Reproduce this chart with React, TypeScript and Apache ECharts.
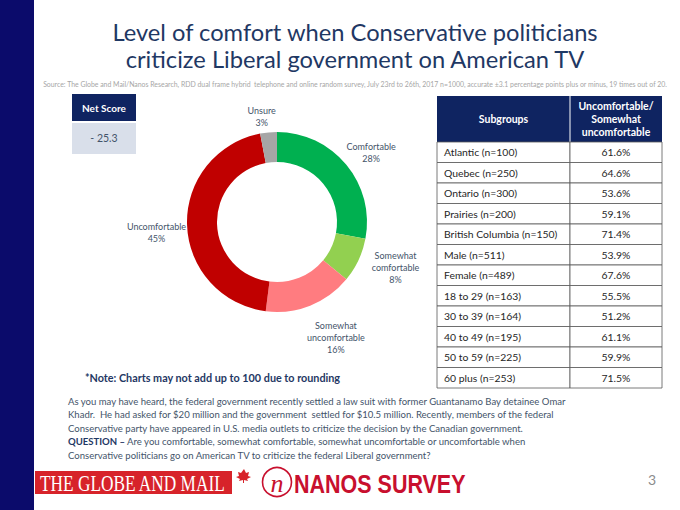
import React, { useEffect, useRef } from "react";
import * as echarts from "echarts";

const sliceNames = ["Comfortable", "Somewhat comfortable", "Somewhat uncomfortable", "Uncomfortable", "Unsure"];
const sliceValues = [28, 8, 16, 45, 3];
const sliceColors = ["#00B050", "#92D050", "#FF7C80", "#C00000", "#A6A6A6"];

const subgroups = [
  "Atlantic (n=100)", "Quebec (n=250)", "Ontario (n=300)", "Prairies (n=200)",
  "British Columbia (n=150)", "Male (n=511)", "Female (n=489)", "18 to 29 (n=163)",
  "30 to 39 (n=164)", "40 to 49 (n=195)", "50 to 59 (n=225)", "60 plus (n=253)",
];
const subgroupValues = ["61.6%", "64.6%", "53.6%", "59.1%", "71.4%", "53.9%", "67.6%", "55.5%", "51.2%", "61.1%", "59.9%", "71.5%"];

const netScore = "- 25.3";
const titleLines = ["Level of comfort when Conservative politicians", "criticize Liberal government on American TV"];
const sourceText =
  "Source: The Globe and Mail/Nanos Research, RDD dual frame hybrid  telephone and online random survey, July 23rd to 26th, 2017 n=1000, accurate ±3.1 percentage points plus or minus, 19 times out of 20.";
const noteText = "*Note: Charts may not add up to 100 due to rounding";
const paragraph = [
  "As you may have heard, the federal government recently settled a law suit with former Guantanamo Bay detainee Omar",
  "Khadr.  He had asked for $20 million and the government  settled for $10.5 million. Recently, members of the federal",
  "Conservative party have appeared in U.S. media outlets to criticize the decision by the Canadian government.",
  "{b|QUESTION –} Are you comfortable, somewhat comfortable, somewhat uncomfortable or uncomfortable when",
  "Conservative politicians go on American TV to criticize the federal Liberal government?",
];

const FONT = 'Lato, "Open Sans", sans-serif';
const NAVY = "#1F3864";
const HEAD = "#0F2461";

// label nudges (px) per slice, to sit labels like the reference
const labelNudge = [[-11, -7], [1, 4], [-11, 24], [12, 7], [13, -8]];

export default function App() {
  const ref = useRef<HTMLDivElement>(null);
  useEffect(() => {
    if (!ref.current) return;
    const chart = echarts.init(ref.current, null, { renderer: "svg" });

    const graphics: any[] = [];
    graphics.push({ type: "rect", shape: { x: 0, y: 0, width: 34, height: 510 }, style: { fill: "#0B0B6B" }, silent: true });
    titleLines.forEach((t, i) => {
      graphics.push({
        type: "text", x: 355, y: 32 + i * 27,
        style: { text: t, fill: NAVY, fontSize: 23.7, fontFamily: FONT, textAlign: "center", textVerticalAlign: "middle" },
      });
    });
    graphics.push({
      type: "text", x: 355, y: 84,
      style: { text: sourceText, fill: "#A6A6A6", fontSize: 6.9, fontFamily: FONT, textAlign: "center", textVerticalAlign: "middle" },
    });

    // Net score box
    graphics.push({ type: "rect", shape: { x: 72, y: 94, width: 64, height: 27 }, style: { fill: HEAD } });
    graphics.push({ type: "text", x: 104, y: 108, style: { text: "Net Score", fill: "#fff", fontSize: 10, fontWeight: "bold", fontFamily: FONT, textAlign: "center", textVerticalAlign: "middle" } });
    graphics.push({ type: "rect", shape: { x: 72, y: 123, width: 64, height: 31 }, style: { fill: "#D9DFEA" } });
    graphics.push({ type: "text", x: 104, y: 138, style: { text: netScore, fill: "#44546A", fontSize: 10.5, fontFamily: FONT, textAlign: "center", textVerticalAlign: "middle" } });

    // Table
    const tx0 = 437, tx1 = 570, tx2 = 662, ty0 = 96, hh = 46, rh = 20.5;
    graphics.push({ type: "rect", shape: { x: tx0, y: ty0, width: tx2 - tx0, height: hh }, style: { fill: HEAD } });
    graphics.push({ type: "line", shape: { x1: tx1, y1: ty0, x2: tx1, y2: ty0 + hh }, style: { stroke: "#ffffff", lineWidth: 1 } });
    graphics.push({ type: "text", x: (tx0 + tx1) / 2, y: ty0 + hh / 2, style: { text: "Subgroups", fill: "#fff", fontSize: 10.5, fontWeight: "bold", fontFamily: FONT, textAlign: "center", textVerticalAlign: "middle" } });
    graphics.push({ type: "text", x: (tx1 + tx2) / 2, y: ty0 + hh / 2, style: { text: "Uncomfortable/\nSomewhat\nuncomfortable", fill: "#fff", fontSize: 10.5, lineHeight: 13, fontWeight: "bold", fontFamily: FONT, textAlign: "center", textVerticalAlign: "middle" } });
    subgroups.forEach((s, i) => {
      const y = ty0 + hh + i * rh;
      graphics.push({ type: "rect", shape: { x: tx0, y, width: tx1 - tx0, height: rh }, style: { fill: "#fff", stroke: "#595959", lineWidth: 0.8 } });
      graphics.push({ type: "rect", shape: { x: tx1, y, width: tx2 - tx1, height: rh }, style: { fill: "#fff", stroke: "#595959", lineWidth: 0.8 } });
      graphics.push({ type: "text", x: tx0 + 7, y: y + rh / 2, style: { text: s, fill: "#262626", fontSize: 10.4, fontFamily: FONT, textAlign: "left", textVerticalAlign: "middle" } });
      graphics.push({ type: "text", x: (tx1 + tx2) / 2, y: y + rh / 2, style: { text: subgroupValues[i], fill: "#262626", fontSize: 10.4, fontFamily: FONT, textAlign: "center", textVerticalAlign: "middle" } });
    });

    // Note
    graphics.push({ type: "text", x: 85, y: 377, style: { text: noteText, fill: NAVY, fontSize: 10.8, fontWeight: "bold", fontFamily: FONT, textAlign: "left", textVerticalAlign: "middle" } });

    // Paragraph
    paragraph.forEach((line, i) => {
      graphics.push({
        type: "text", x: 68, y: 401 + i * 13.6,
        style: {
          text: line, fill: "#44546A", fontSize: 9.55, fontFamily: FONT, textAlign: "left", textVerticalAlign: "middle",
          rich: { b: { fill: NAVY, fontWeight: "bold", fontSize: 9.55, fontFamily: FONT } },
        },
      });
    });

    // Globe and Mail logo
    graphics.push({ type: "rect", shape: { x: 35, y: 471, width: 197, height: 23 }, style: { fill: "#D7232A" } });
    graphics.push({
      type: "text", x: 40, y: 483, scaleX: 0.72,
      style: { text: "THE GLOBE AND MAIL", fill: "#fff", fontSize: 24, fontFamily: '"Liberation Serif", "DejaVu Serif", serif', textAlign: "left", textVerticalAlign: "middle" },
    });
    graphics.push({
      type: "polygon",
      shape: { points: [[244, 469], [246, 473], [249, 472], [248, 476], [251, 477], [247, 479], [248, 481], [244, 480], [244, 483], [243, 483], [243, 480], [239, 481], [240, 479], [236, 477], [239, 476], [238, 472], [241, 473]] },
      style: { fill: "#D7232A" },
    });
    // Nanos logo
    graphics.push({ type: "circle", shape: { cx: 277, cy: 482, r: 14.5 }, style: { fill: "none", stroke: "#C8102E", lineWidth: 1.6 } });
    graphics.push({ type: "text", x: 277, y: 483, style: { text: "n", fill: "#C8102E", fontSize: 26, fontStyle: "italic", fontFamily: '"Liberation Serif", serif', textAlign: "center", textVerticalAlign: "middle" } });
    graphics.push({
      type: "text", x: 294, y: 484, scaleX: 0.86,
      style: { text: "NANOS SURVEY", fill: "#C8102E", fontSize: 25, fontWeight: "bold", fontFamily: '"Liberation Sans", Arial, sans-serif', textAlign: "left", textVerticalAlign: "middle" },
    });
    graphics.push({ type: "text", x: 652, y: 479, style: { text: "3", fill: "#8C8C8C", fontSize: 14, fontFamily: FONT, textAlign: "center", textVerticalAlign: "middle" } });

    const labelNames: Record<string, string> = {
      "Somewhat comfortable": "Somewhat\ncomfortable",
      "Somewhat uncomfortable": "Somewhat\nuncomfortable",
    };

    chart.setOption({
      animation: false,
      backgroundColor: "#ffffff",
      series: [
        {
          type: "pie",
          center: [277, 222],
          radius: [60, 90],
          startAngle: 90,
          clockwise: true,
          avoidLabelOverlap: false,
          data: sliceNames.map((n, i) => ({ name: n, value: sliceValues[i], itemStyle: { color: sliceColors[i] } })),
          label: {
            show: true,
            position: "outside",
            formatter: (p: any) => `${labelNames[p.name] || p.name}\n${p.value}%`,
            color: "#44546A",
            fontSize: 9,
            lineHeight: 12,
            fontFamily: FONT,
          },
          labelLine: { show: false, length: 8, length2: 0 },
          labelLayout: (p: any) => {
            const n = labelNudge[p.dataIndex] || [0, 0];
            return {
              x: p.labelRect.x + p.labelRect.width / 2 + n[0],
              y: p.labelRect.y + p.labelRect.height / 2 + n[1],
              align: "center",
              verticalAlign: "middle",
            };
          },
          emphasis: { disabled: true },
        },
      ],
      graphic: graphics,
    });
    return () => chart.dispose();
  }, []);
  return <div ref={ref} style={{ position: "fixed", left: 0, top: 0, width: 680, height: 510 }} />;
}
